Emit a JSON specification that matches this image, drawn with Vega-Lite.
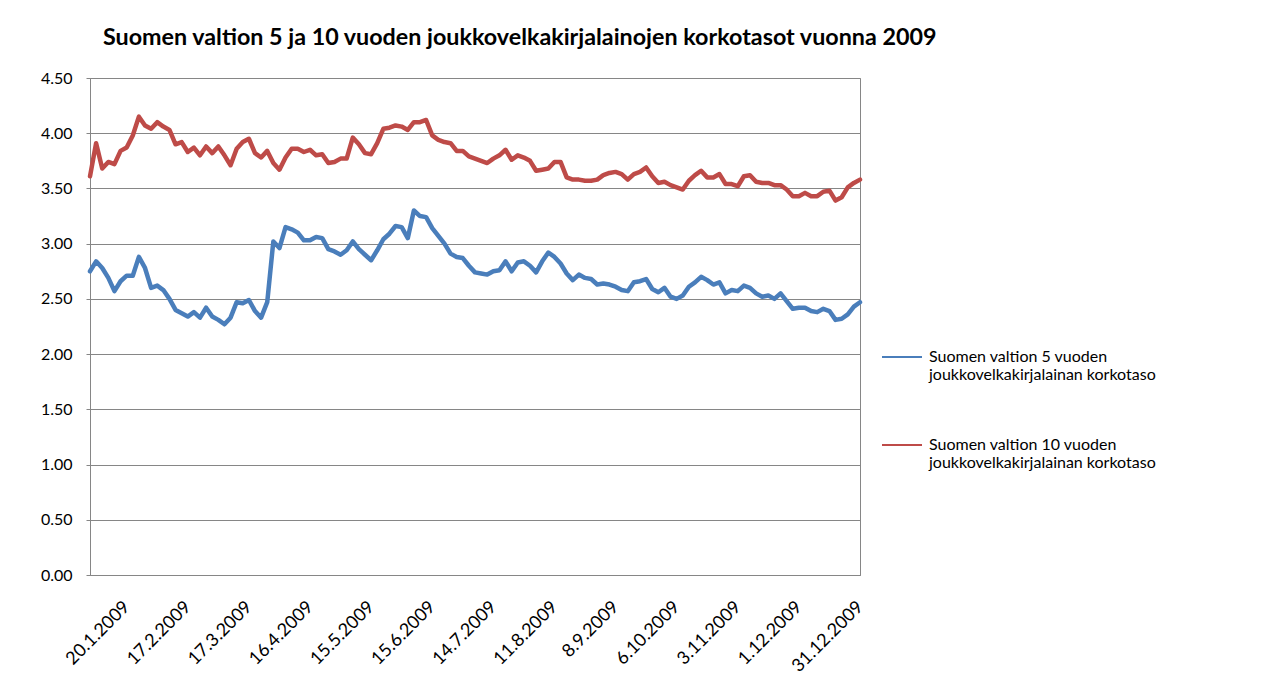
{
  "$schema": "https://vega.github.io/schema/vega-lite/v6.json",
  "autosize": {"type": "none"},
  "width": 770,
  "height": 497,
  "padding": {"left": 90, "top": 78, "right": 423, "bottom": 125},
  "background": "white",
  "config": {
    "font": "Lato",
    "view": {"stroke": "#868686", "strokeWidth": 1},
    "axis": {"labelColor": "black", "labelFont": "Lato", "domainColor": "#868686", "tickColor": "#868686", "gridColor": "#868686", "gridOpacity": 1}
  },
  "title": {
    "text": "Suomen valtion 5 ja 10 vuoden joukkovelkakirjalainojen korkotasot vuonna 2009",
    "anchor": "start",
    "frame": "group",
    "dx": 13,
    "offset": 20,
    "font": "Lato",
    "fontSize": 23.3,
    "fontWeight": "bold",
    "color": "black"
  },
  "data": {
    "values": [
      {"d":"2.1.2009","v5":2.75,"v10":3.61},
      {"d":"6.1.2009","v5":2.84,"v10":3.91},
      {"d":"8.1.2009","v5":2.78,"v10":3.68},
      {"d":"12.1.2009","v5":2.69,"v10":3.74},
      {"d":"14.1.2009","v5":2.57,"v10":3.72},
      {"d":"16.1.2009","v5":2.66,"v10":3.84},
      {"d":"20.1.2009","v5":2.71,"v10":3.87},
      {"d":"22.1.2009","v5":2.71,"v10":3.98},
      {"d":"26.1.2009","v5":2.88,"v10":4.15},
      {"d":"28.1.2009","v5":2.78,"v10":4.07},
      {"d":"30.1.2009","v5":2.60,"v10":4.04},
      {"d":"3.2.2009","v5":2.62,"v10":4.10},
      {"d":"5.2.2009","v5":2.58,"v10":4.06},
      {"d":"9.2.2009","v5":2.50,"v10":4.03},
      {"d":"11.2.2009","v5":2.40,"v10":3.90},
      {"d":"13.2.2009","v5":2.37,"v10":3.92},
      {"d":"17.2.2009","v5":2.34,"v10":3.83},
      {"d":"19.2.2009","v5":2.38,"v10":3.87},
      {"d":"23.2.2009","v5":2.33,"v10":3.80},
      {"d":"25.2.2009","v5":2.42,"v10":3.88},
      {"d":"27.2.2009","v5":2.34,"v10":3.82},
      {"d":"3.3.2009","v5":2.31,"v10":3.88},
      {"d":"5.3.2009","v5":2.27,"v10":3.80},
      {"d":"9.3.2009","v5":2.33,"v10":3.71},
      {"d":"11.3.2009","v5":2.47,"v10":3.86},
      {"d":"13.3.2009","v5":2.46,"v10":3.92},
      {"d":"17.3.2009","v5":2.49,"v10":3.95},
      {"d":"19.3.2009","v5":2.39,"v10":3.82},
      {"d":"23.3.2009","v5":2.33,"v10":3.78},
      {"d":"25.3.2009","v5":2.47,"v10":3.84},
      {"d":"27.3.2009","v5":3.02,"v10":3.73},
      {"d":"31.3.2009","v5":2.96,"v10":3.67},
      {"d":"2.4.2009","v5":3.15,"v10":3.78},
      {"d":"6.4.2009","v5":3.13,"v10":3.86},
      {"d":"8.4.2009","v5":3.10,"v10":3.86},
      {"d":"14.4.2009","v5":3.03,"v10":3.83},
      {"d":"16.4.2009","v5":3.03,"v10":3.85},
      {"d":"20.4.2009","v5":3.06,"v10":3.80},
      {"d":"22.4.2009","v5":3.05,"v10":3.81},
      {"d":"24.4.2009","v5":2.95,"v10":3.73},
      {"d":"28.4.2009","v5":2.93,"v10":3.74},
      {"d":"30.4.2009","v5":2.90,"v10":3.77},
      {"d":"5.5.2009","v5":2.94,"v10":3.77},
      {"d":"7.5.2009","v5":3.02,"v10":3.96},
      {"d":"11.5.2009","v5":2.95,"v10":3.90},
      {"d":"13.5.2009","v5":2.90,"v10":3.82},
      {"d":"15.5.2009","v5":2.85,"v10":3.81},
      {"d":"19.5.2009","v5":2.94,"v10":3.91},
      {"d":"22.5.2009","v5":3.04,"v10":4.04},
      {"d":"26.5.2009","v5":3.09,"v10":4.05},
      {"d":"28.5.2009","v5":3.16,"v10":4.07},
      {"d":"1.6.2009","v5":3.15,"v10":4.06},
      {"d":"3.6.2009","v5":3.05,"v10":4.03},
      {"d":"5.6.2009","v5":3.30,"v10":4.10},
      {"d":"9.6.2009","v5":3.25,"v10":4.10},
      {"d":"11.6.2009","v5":3.24,"v10":4.12},
      {"d":"15.6.2009","v5":3.14,"v10":3.98},
      {"d":"17.6.2009","v5":3.07,"v10":3.94},
      {"d":"22.6.2009","v5":3.00,"v10":3.92},
      {"d":"24.6.2009","v5":2.91,"v10":3.91},
      {"d":"26.6.2009","v5":2.88,"v10":3.84},
      {"d":"30.6.2009","v5":2.87,"v10":3.84},
      {"d":"2.7.2009","v5":2.80,"v10":3.79},
      {"d":"6.7.2009","v5":2.74,"v10":3.77},
      {"d":"8.7.2009","v5":2.73,"v10":3.75},
      {"d":"10.7.2009","v5":2.72,"v10":3.73},
      {"d":"14.7.2009","v5":2.75,"v10":3.77},
      {"d":"16.7.2009","v5":2.76,"v10":3.80},
      {"d":"20.7.2009","v5":2.84,"v10":3.85},
      {"d":"22.7.2009","v5":2.75,"v10":3.76},
      {"d":"24.7.2009","v5":2.83,"v10":3.80},
      {"d":"28.7.2009","v5":2.84,"v10":3.78},
      {"d":"30.7.2009","v5":2.80,"v10":3.75},
      {"d":"3.8.2009","v5":2.74,"v10":3.66},
      {"d":"5.8.2009","v5":2.84,"v10":3.67},
      {"d":"7.8.2009","v5":2.92,"v10":3.68},
      {"d":"11.8.2009","v5":2.88,"v10":3.74},
      {"d":"13.8.2009","v5":2.82,"v10":3.74},
      {"d":"17.8.2009","v5":2.73,"v10":3.60},
      {"d":"19.8.2009","v5":2.67,"v10":3.58},
      {"d":"21.8.2009","v5":2.72,"v10":3.58},
      {"d":"25.8.2009","v5":2.69,"v10":3.57},
      {"d":"27.8.2009","v5":2.68,"v10":3.57},
      {"d":"31.8.2009","v5":2.63,"v10":3.58},
      {"d":"2.9.2009","v5":2.64,"v10":3.62},
      {"d":"4.9.2009","v5":2.63,"v10":3.64},
      {"d":"8.9.2009","v5":2.61,"v10":3.65},
      {"d":"10.9.2009","v5":2.58,"v10":3.63},
      {"d":"14.9.2009","v5":2.57,"v10":3.58},
      {"d":"16.9.2009","v5":2.65,"v10":3.63},
      {"d":"18.9.2009","v5":2.66,"v10":3.65},
      {"d":"22.9.2009","v5":2.68,"v10":3.69},
      {"d":"24.9.2009","v5":2.59,"v10":3.61},
      {"d":"28.9.2009","v5":2.56,"v10":3.55},
      {"d":"30.9.2009","v5":2.60,"v10":3.56},
      {"d":"2.10.2009","v5":2.52,"v10":3.53},
      {"d":"6.10.2009","v5":2.50,"v10":3.51},
      {"d":"8.10.2009","v5":2.53,"v10":3.49},
      {"d":"12.10.2009","v5":2.61,"v10":3.57},
      {"d":"14.10.2009","v5":2.65,"v10":3.62},
      {"d":"16.10.2009","v5":2.70,"v10":3.66},
      {"d":"20.10.2009","v5":2.67,"v10":3.60},
      {"d":"22.10.2009","v5":2.63,"v10":3.60},
      {"d":"26.10.2009","v5":2.65,"v10":3.63},
      {"d":"28.10.2009","v5":2.55,"v10":3.54},
      {"d":"30.10.2009","v5":2.58,"v10":3.54},
      {"d":"3.11.2009","v5":2.57,"v10":3.52},
      {"d":"5.11.2009","v5":2.62,"v10":3.61},
      {"d":"9.11.2009","v5":2.60,"v10":3.62},
      {"d":"11.11.2009","v5":2.55,"v10":3.56},
      {"d":"13.11.2009","v5":2.52,"v10":3.55},
      {"d":"17.11.2009","v5":2.53,"v10":3.55},
      {"d":"19.11.2009","v5":2.50,"v10":3.53},
      {"d":"23.11.2009","v5":2.55,"v10":3.53},
      {"d":"25.11.2009","v5":2.48,"v10":3.49},
      {"d":"27.11.2009","v5":2.41,"v10":3.43},
      {"d":"1.12.2009","v5":2.42,"v10":3.43},
      {"d":"3.12.2009","v5":2.42,"v10":3.46},
      {"d":"7.12.2009","v5":2.39,"v10":3.43},
      {"d":"9.12.2009","v5":2.38,"v10":3.43},
      {"d":"11.12.2009","v5":2.41,"v10":3.47},
      {"d":"15.12.2009","v5":2.39,"v10":3.48},
      {"d":"17.12.2009","v5":2.31,"v10":3.39},
      {"d":"21.12.2009","v5":2.32,"v10":3.42},
      {"d":"23.12.2009","v5":2.36,"v10":3.51},
      {"d":"29.12.2009","v5":2.43,"v10":3.55},
      {"d":"31.12.2009","v5":2.47,"v10":3.58}
    ]
  },
  "transform": [{"fold": ["v5", "v10"], "as": ["s", "v"]}],
  "mark": {"type": "line", "strokeWidth": 4.5, "strokeJoin": "round", "strokeCap": "round"},
  "encoding": {
    "x": {
      "field": "d",
      "type": "ordinal",
      "sort": null,
      "scale": {"type": "point", "padding": 0},
      "axis": {
        "title": null,
        "values": ["20.1.2009","17.2.2009","17.3.2009","16.4.2009","15.5.2009","15.6.2009","14.7.2009","11.8.2009","8.9.2009","6.10.2009","3.11.2009","1.12.2009","31.12.2009"],
        "labelAngle": -45,
        "labelAlign": "right",
        "labelBaseline": "middle",
        "labelFontSize": 18,
        "labelPadding": 29,
        "ticks": false,
        "grid": false,
        "labelOverlap": false
      }
    },
    "y": {
      "field": "v",
      "type": "quantitative",
      "scale": {"domain": [0, 4.5], "nice": false},
      "axis": {
        "title": null,
        "values": [0, 0.5, 1, 1.5, 2, 2.5, 3, 3.5, 4, 4.5],
        "format": ".2f",
        "labelFontSize": 16,
        "tickSize": 4,
        "labelPadding": 14,
        "grid": true
      }
    },
    "color": {
      "field": "s",
      "type": "nominal",
      "sort": ["v5", "v10"],
      "scale": {"domain": ["v5", "v10"], "range": ["#4A7EBB", "#BE4B48"]},
      "legend": {
        "title": null,
        "orient": "none",
        "legendX": 791,
        "legendY": 258,
        "padding": 0,
        "symbolType": "stroke",
        "symbolStrokeWidth": 2,
        "symbolSize": 1600,
        "labelFont": "Lato",
        "labelFontSize": 16,
        "labelLineHeight": 22,
        "labelColor": "black",
        "labelBaseline": "middle",
        "labelOffset": 6,
        "labelLimit": 400,
        "rowPadding": 41,
        "labelExpr": "datum.label == 'v5' ? ['Suomen valtion 5 vuoden', 'joukkovelkakirjalainan korkotaso'] : ['Suomen valtion 10 vuoden', 'joukkovelkakirjalainan korkotaso']"
      }
    }
  }
}
